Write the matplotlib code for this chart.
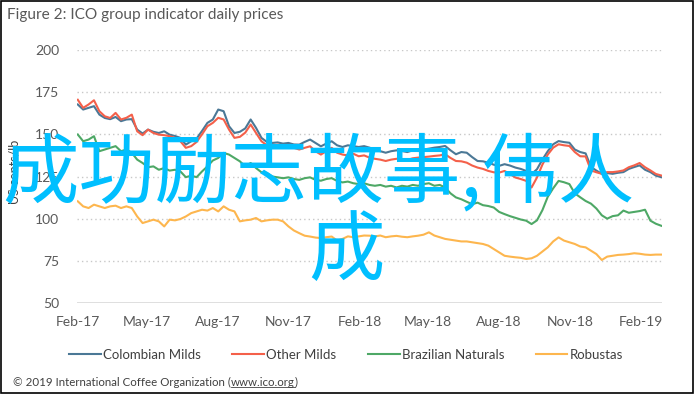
import matplotlib
matplotlib.use("Agg")
import matplotlib.pyplot as plt
import matplotlib.dates as mdates
import numpy as np
import pandas as pd
from matplotlib.lines import Line2D
from matplotlib.patches import Rectangle

plt.rcParams['font.family'] = ['Lato', 'DejaVu Sans']

# ---- data (weekly readings, from 2017-02-01) ----
start_date = "2017-02-01"
n_weeks = 109

colombian_milds = [
    167.7, 164.7, 165.7, 166.7, 161.7, 159.7, 159.0, 160.3, 157.8, 158.8,
    159.0, 152.8, 150.5, 152.8, 151.5, 150.8, 151.8, 149.8, 149.0, 147.9,
    143.9, 145.9, 147.5, 152.0, 156.8, 158.8, 164.7, 163.7, 154.8, 150.8,
    151.5, 153.5, 158.8, 153.8, 147.9, 145.5, 144.9, 145.2, 144.5, 144.9,
    144.0, 143.9, 145.5, 146.9, 144.9, 142.9, 144.5, 145.9, 143.5, 142.5,
    143.5, 143.0, 142.5, 143.0, 142.1, 141.0, 140.0, 139.1, 140.0, 140.5,
    140.1, 139.5, 140.5, 140.1, 141.0, 141.5, 142.1, 142.5, 143.1, 140.5,
    138.2, 139.5, 139.1, 136.5, 134.2, 134.0, 133.2, 132.0, 131.3, 132.3,
    131.5, 130.3, 129.5, 128.3, 126.4, 129.3, 135.0, 140.0, 144.1, 146.0,
    145.4, 145.0, 141.0, 139.5, 138.7, 130.6, 128.5, 126.6, 127.0, 126.6,
    127.2, 127.6, 129.5, 130.6, 131.6, 129.0, 127.6, 125.5, 124.6]

other_milds = [
    170.5, 165.7, 167.7, 170.2, 163.7, 160.7, 159.7, 162.7, 158.8, 159.8,
    161.7, 151.8, 149.5, 152.8, 150.8, 149.8, 149.5, 148.9, 147.9, 145.9,
    142.0, 143.0, 145.5, 150.0, 154.8, 156.8, 159.8, 158.8, 152.8, 147.9,
    148.5, 151.0, 155.8, 150.8, 145.9, 143.5, 142.9, 143.9, 143.0, 142.9,
    142.0, 141.0, 142.0, 142.9, 140.0, 138.0, 140.0, 142.0, 139.1, 138.0,
    137.5, 138.5, 137.0, 137.5, 136.2, 135.5, 135.0, 134.2, 135.0, 135.5,
    135.2, 134.8, 135.8, 136.2, 136.5, 136.8, 137.2, 137.5, 138.2, 136.0,
    134.2, 134.0, 133.2, 131.5, 130.3, 129.5, 128.3, 127.5, 127.3, 128.3,
    126.5, 124.4, 123.5, 122.4, 118.5, 124.4, 132.0, 138.0, 142.1, 144.1,
    143.5, 143.1, 139.5, 137.0, 136.9, 128.6, 127.5, 126.6, 127.6, 127.6,
    128.0, 128.6, 130.5, 131.6, 133.0, 130.5, 128.6, 126.5, 125.6]

brazilian_naturals = [
    149.9, 145.9, 146.9, 148.9, 140.0, 141.0, 142.0, 143.0, 140.0, 141.0,
    139.0, 135.0, 133.0, 130.5, 131.0, 129.0, 130.0, 128.5, 129.0, 128.0,
    124.6, 125.5, 124.6, 128.0, 131.0, 134.5, 136.0, 139.0, 138.0, 136.0,
    134.0, 131.0, 133.0, 130.0, 127.5, 127.0, 125.0, 124.5, 124.0, 124.5,
    123.5, 123.0, 124.0, 124.5, 123.0, 122.5, 123.5, 124.0, 122.4, 121.5,
    122.0, 121.0, 120.5, 121.0, 120.0, 119.5, 120.0, 119.0, 119.5, 118.5,
    119.5, 119.0, 120.0, 119.5, 120.5, 121.0, 119.5, 120.0, 118.5, 115.0,
    112.6, 111.5, 110.0, 108.6, 109.5, 108.0, 107.5, 106.6, 104.0, 102.7,
    101.5, 100.5, 99.5, 98.8, 96.8, 99.0, 105.0, 113.0, 118.0, 122.4,
    121.6, 120.5, 115.0, 112.7, 110.5, 108.9, 106.0, 102.0, 100.0, 101.5,
    102.0, 104.8, 103.5, 104.0, 104.5, 105.3, 98.8, 97.0, 95.8]

robustas = [
    110.3, 107.3, 106.3, 108.3, 107.3, 106.3, 107.3, 107.7, 106.3, 107.3,
    106.3, 101.3, 97.4, 98.4, 99.4, 98.4, 95.4, 99.4, 99.0, 99.8,
    101.3, 103.3, 104.3, 105.3, 104.8, 106.3, 104.3, 107.3, 105.3, 104.3,
    98.4, 99.0, 99.4, 100.4, 98.4, 99.0, 99.4, 99.4, 98.4, 95.4,
    93.0, 91.4, 89.9, 89.4, 88.8, 88.5, 89.0, 89.4, 87.0, 88.0,
    89.5, 89.0, 89.5, 90.0, 89.9, 89.5, 90.0, 89.0, 89.5, 89.8,
    89.3, 89.0, 89.5, 89.9, 90.5, 91.9, 90.0, 89.0, 88.0, 87.5,
    87.0, 86.5, 86.5, 86.0, 85.5, 85.0, 84.0, 82.0, 80.0, 78.0,
    77.5, 77.1, 76.8, 76.1, 76.5, 78.0, 80.5, 83.0, 86.5, 88.9,
    87.0, 86.0, 85.0, 83.5, 83.0, 81.0, 79.0, 75.5, 77.5, 78.0,
    78.5, 78.7, 79.0, 79.5, 79.2, 78.7, 78.5, 78.7, 78.7]

series_names = ["Colombian Milds", "Other Milds", "Brazilian Naturals", "Robustas"]
series_values = [colombian_milds, other_milds, brazilian_naturals, robustas]
series_colors = ["#4B7896", "#F4604A", "#4EA866", "#FDB64E"]

tick_dates = ["2017-02-01", "2017-05-01", "2017-08-01", "2017-11-01", "2018-02-01",
              "2018-05-01", "2018-08-01", "2018-11-01", "2019-02-01"]
y_ticks = [50, 75, 100, 125, 150, 175, 200]

title_text = "Figure 2: ICO group indicator daily prices"
y_label = "US cents/lb"
footer_parts = ["\u00a9 2019 International Coffee Organization (", "www.ico.org", ")"]
watermark_line1 = "成功励志故事,伟人"
watermark_line2 = "成"

dates = pd.date_range(start_date, periods=n_weeks, freq="7D")

# ---- figure ----
W, H = 695, 394
fig = plt.figure(figsize=(W / 100, H / 100), dpi=100)
fig.patch.set_facecolor("white")

ax = fig.add_axes([77 / W, 1 - 303 / H, (662 - 77) / W, (303 - 50) / H])
for name, vals, col in zip(series_names, series_values, series_colors):
    ax.plot(dates, vals, color=col, lw=1.5, label=name, zorder=3)

ax.set_xlim(pd.Timestamp("2017-01-31"), pd.Timestamp("2019-02-28"))
ax.set_ylim(50, 200)
ax.set_yticks(y_ticks)
for yv in y_ticks[1:]:
    ax.axhline(yv, color="#C8C8C8", lw=1.0, ls=(0, (1, 2.2)), zorder=1)
ax.axhline(50, color="#D9D9D9", lw=1.2, zorder=2)
for s in ax.spines.values():
    s.set_visible(False)
ax.set_xticks(pd.to_datetime(tick_dates))
ax.xaxis.set_major_formatter(mdates.DateFormatter("%b-%y"))
ax.tick_params(axis="both", length=0, labelsize=10, colors="#595959")
ax.tick_params(axis="x", pad=9)
ax.tick_params(axis="y", pad=13)
ax.set_ylabel(y_label, fontsize=9, color="#404040")
ax.yaxis.set_label_coords((21 - 77) / (662 - 77), (303 - 172) / (303 - 50))

# title
fig.text(7 / W, 1 - 15 / H, title_text, fontsize=11.1, color="#595959",
         ha="left", va="center")

# legend
fig.legend(loc="center", bbox_to_anchor=(346 / W, 1 - 355 / H), ncol=4, frameon=False,
           fontsize=9.5, handlelength=2.4, handletextpad=0.15, columnspacing=2.4,
           labelcolor="#404040")

# footer with underlined link
fig.canvas.draw()
renderer = fig.canvas.get_renderer()
x_px = 13
y_fig = 1 - 382 / H
for i, part in enumerate(footer_parts):
    t = fig.text(x_px / W, y_fig, part, fontsize=8.3, color="#404040", ha="left", va="center")
    bb = t.get_window_extent(renderer)
    if i == 1:
        fig.add_artist(Line2D([bb.x0 / W, bb.x1 / W], [(bb.y0 + 1) / H, (bb.y0 + 1) / H],
                              color="#404040", lw=0.6))
    x_px = bb.x1

# border
fig.add_artist(Rectangle((0.5 / W, 1.5 / H), (W - 2.5) / W, (H - 2.5) / H,
                         transform=fig.transFigure, fill=False, ec="black", lw=1.2))

# watermark overlay
wm_font = ["Noto Sans CJK SC", "DejaVu Sans"]
fig.text(318 / W, 1 - 175 / H, watermark_line1, fontsize=55, color="#00BFFF",
         family=wm_font, ha="center", va="center", zorder=10)
fig.text(346 / W, 1 - 252 / H, watermark_line2, fontsize=55, color="#00BFFF",
         family=wm_font, ha="center", va="center", zorder=10)

fig.savefig("out.png", dpi=100)
